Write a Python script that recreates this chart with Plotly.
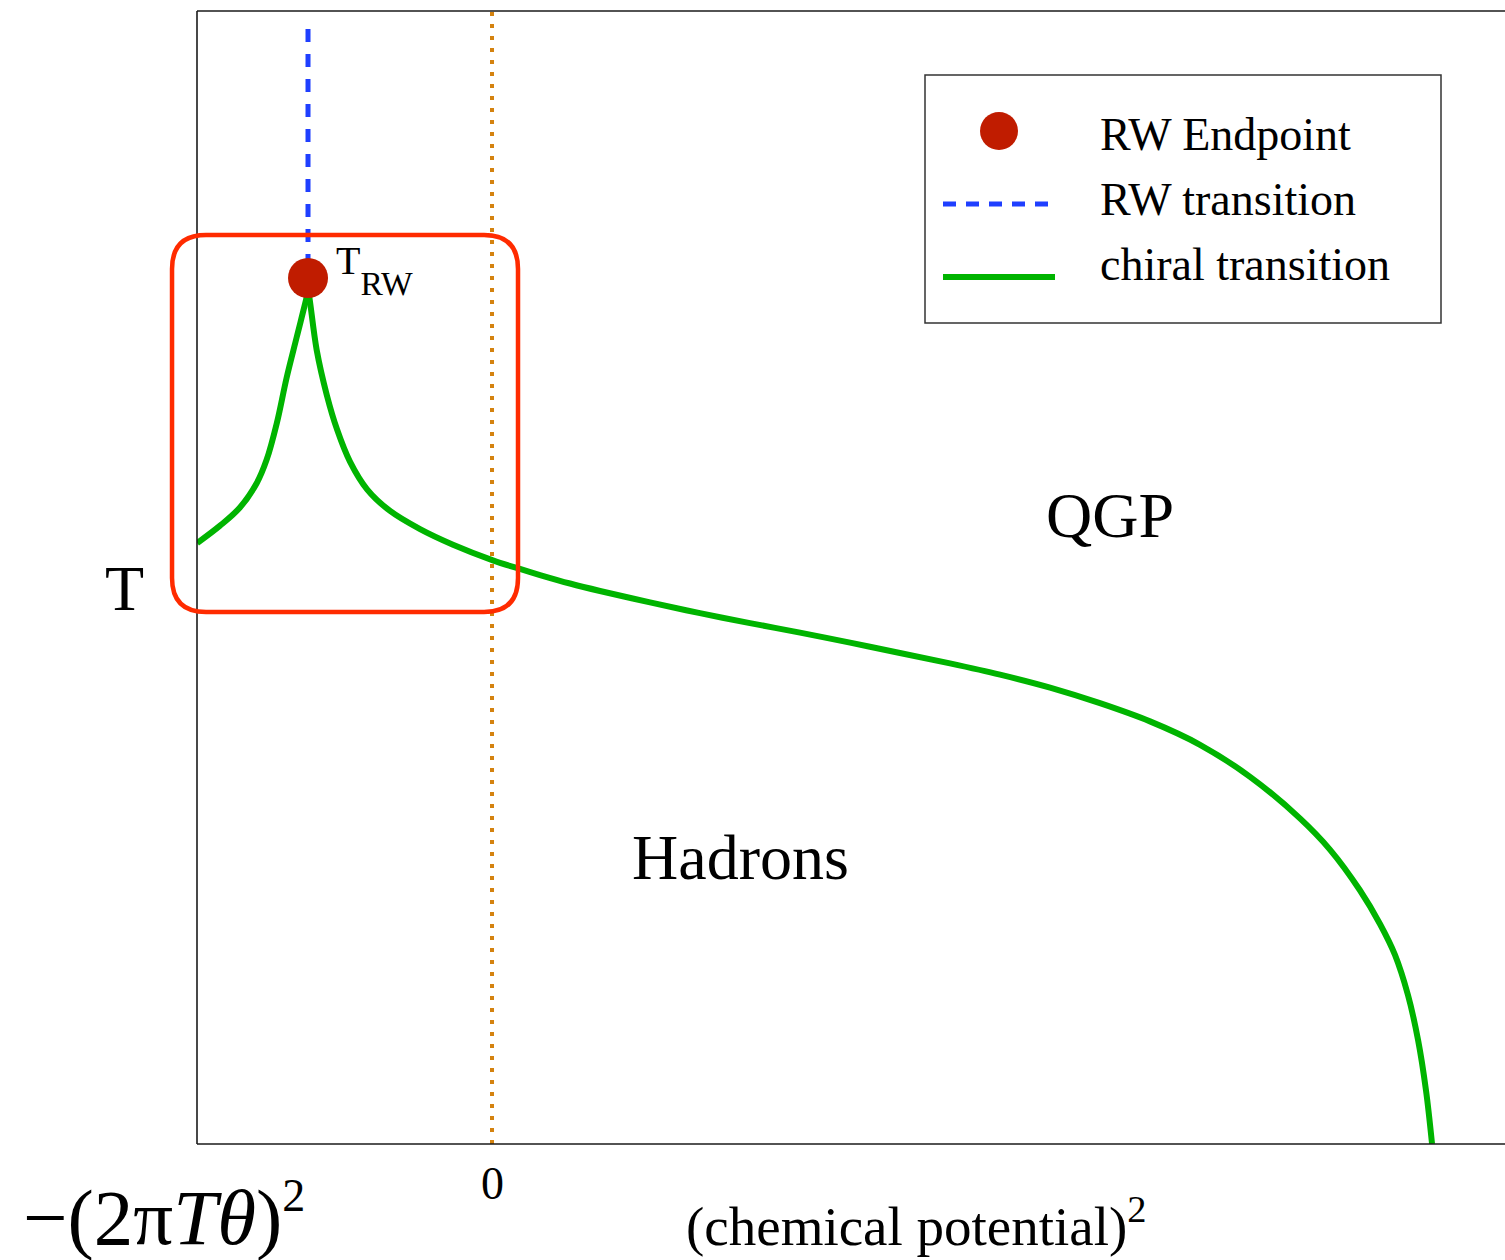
import plotly.graph_objects as go

# Chiral transition line: x = (chemical potential)^2 in units of (2*pi*T*theta)^2,
# y = T in units of T_RW.  Index PEAK is the Roberge-Weiss endpoint.
chiral_mu2 = [-1.602, -1.478, -1.370, -1.279, -1.225, -1.170, -1.116, -1.061, -1.007, -1.000,
              -0.993, -0.953, -0.898, -0.842, -0.772, -0.679, -0.554, -0.391, -0.212, 0.005,
              0.152, 0.261, 0.424, 0.587, 0.859, 1.130, 1.402, 1.674, 1.946, 2.217,
              2.489, 2.761, 3.033, 3.304, 3.576, 3.848, 4.120, 4.391, 4.554, 4.717,
              4.826, 4.908, 4.978, 5.033, 5.076, 5.109]
chiral_T = [0.694, 0.714, 0.735, 0.763, 0.790, 0.832, 0.885, 0.932, 0.978, 0.985,
            0.978, 0.917, 0.865, 0.825, 0.788, 0.756, 0.731, 0.710, 0.692, 0.674,
            0.664, 0.657, 0.6472, 0.6386, 0.6255, 0.6130, 0.6015, 0.5905, 0.5790, 0.5670,
            0.5550, 0.5420, 0.5270, 0.5090, 0.4880, 0.4610, 0.4240, 0.3760, 0.340, 0.293,
            0.254, 0.218, 0.172, 0.120, 0.062, 0.0]
PEAK = 9

# Roberge-Weiss endpoint and the RW transition line above it
rw_mu2 = -1.0
rw_T = 1.0
rw_line_T = [1.2875, 1.0]

# mu^2 = 0 reference line
zero_line_T = [0.0, 1.3083]

X_RANGE = [-1.6033, 5.5054]
Y_RANGE = [0.0, 1.3083]

W, H = 1505, 1260
ML, MR, MT, MB = 197, 0, 11, 116
PW, PH = W - ML - MR, H - MT - MB

GREEN = "#00b400"
BLUE = "#1f3fff"
DARKRED = "#c01c00"
ORANGE = "#d4820f"
BOXRED = "#ff2b00"
SERIF = "Liberation Serif, Times New Roman, serif"


def px_x(px):
    return (px - ML) / PW


def px_y(py):
    return (H - MB - py) / PH


def data_x(x):
    return (x - X_RANGE[0]) / (X_RANGE[1] - X_RANGE[0])


def data_y(y):
    return (y - Y_RANGE[0]) / (Y_RANGE[1] - Y_RANGE[0])


fig = go.Figure()

fig.add_trace(go.Scatter(x=[0, 0], y=zero_line_T, mode="lines",
                         line=dict(color=ORANGE, width=4, dash="4px,8px"),
                         showlegend=False, hoverinfo="skip"))
fig.add_trace(go.Scatter(x=[rw_mu2, rw_mu2], y=rw_line_T, mode="lines",
                         line=dict(color=BLUE, width=5, dash="13px,12px"),
                         showlegend=False, name="RW transition"))
# left and right branches meet in a cusp at the endpoint
for sl in (slice(None, PEAK + 1), slice(PEAK, None)):
    fig.add_trace(go.Scatter(x=chiral_mu2[sl], y=chiral_T[sl], mode="lines",
                             line=dict(color=GREEN, width=6, shape="spline", smoothing=1.0),
                             showlegend=False, name="chiral transition"))
fig.add_trace(go.Scatter(x=[rw_mu2], y=[rw_T], mode="markers",
                         marker=dict(color=DARKRED, size=40, line=dict(width=0)),
                         showlegend=False, name="RW Endpoint"))

shapes = []
# frame: left, bottom and top
frame = dict(type="line", xref="paper", yref="paper", line=dict(color="#1a1a1a", width=1.6))
shapes.append(dict(frame, x0=0, x1=0, y0=0, y1=1))
shapes.append(dict(frame, x0=0, x1=1, y0=0, y1=0))
shapes.append(dict(frame, x0=0, x1=1, y0=1, y1=1))

# rounded highlight box around the endpoint region
bx0, bx1 = data_x(-1.739), data_x(0.1413)
by0, by1 = data_y(0.6143), data_y(1.0497)
rx, ry = 34 / PW, 34 / PH
path = (f"M {bx0 + rx},{by1} L {bx1 - rx},{by1} Q {bx1},{by1} {bx1},{by1 - ry} "
        f"L {bx1},{by0 + ry} Q {bx1},{by0} {bx1 - rx},{by0} "
        f"L {bx0 + rx},{by0} Q {bx0},{by0} {bx0},{by0 + ry} "
        f"L {bx0},{by1 - ry} Q {bx0},{by1} {bx0 + rx},{by1} Z")
shapes.append(dict(type="path", xref="paper", yref="paper", path=path,
                   line=dict(color=BOXRED, width=4.5)))

# legend box with hand-drawn samples
shapes.append(dict(type="rect", xref="paper", yref="paper",
                   x0=px_x(925), x1=px_x(1441), y0=px_y(323), y1=px_y(75),
                   line=dict(color="#333333", width=1.5), fillcolor="white"))
shapes.append(dict(type="circle", xref="paper", yref="paper",
                   x0=px_x(980), x1=px_x(1018), y0=px_y(150), y1=px_y(112),
                   fillcolor=DARKRED, line=dict(width=0)))
shapes.append(dict(type="line", xref="paper", yref="paper",
                   x0=px_x(943), x1=px_x(1055), y0=px_y(204), y1=px_y(204),
                   line=dict(color=BLUE, width=5, dash="13px,10px")))
shapes.append(dict(type="line", xref="paper", yref="paper",
                   x0=px_x(943), x1=px_x(1055), y0=px_y(277), y1=px_y(277),
                   line=dict(color=GREEN, width=6)))

ann = []


def label(text, x, y, size, xanchor="center", xref="paper", yref="paper", **kw):
    ann.append(dict(text=text, x=x, y=y, xref=xref, yref=yref, showarrow=False,
                    xanchor=xanchor, yanchor="middle",
                    font=dict(family=SERIF, size=size, color="black"), **kw))


for txt, yc in [("RW Endpoint", 134), ("RW transition", 199), ("chiral transition", 264)]:
    label(txt, px_x(1098), px_y(yc), 46, xanchor="left")

label("<span style='font-size:40px'>T</span>"
      "<sub><span style='baseline-shift:-11px'>RW</span></sub>", rw_mu2, rw_T, 48,
      xanchor="left", xref="x", yref="y", xshift=26, yshift=8)

label("QGP", px_x(1110), px_y(515), 64)
label("Hadrons", px_x(740), px_y(857), 64)
label("T", px_x(124), px_y(589), 64)
label("0", 0, px_y(1183), 46, xref="x")
label("(chemical potential)<sup>2</sup>", px_x(916), px_y(1222), 55)
label("\u2212(2\u03c0<i>T</i><i>\u03b8</i>)<sup><span style='font-size:46px'>2</span></sup>",
      px_x(164), px_y(1215), 79)

fig.update_layout(
    width=W, height=H,
    margin=dict(l=ML, r=MR, t=MT, b=MB, pad=0),
    paper_bgcolor="white", plot_bgcolor="white",
    xaxis=dict(range=X_RANGE, visible=False, fixedrange=True),
    yaxis=dict(range=Y_RANGE, visible=False, fixedrange=True),
    shapes=shapes, annotations=ann, showlegend=False,
)

fig.write_html("out.html")
